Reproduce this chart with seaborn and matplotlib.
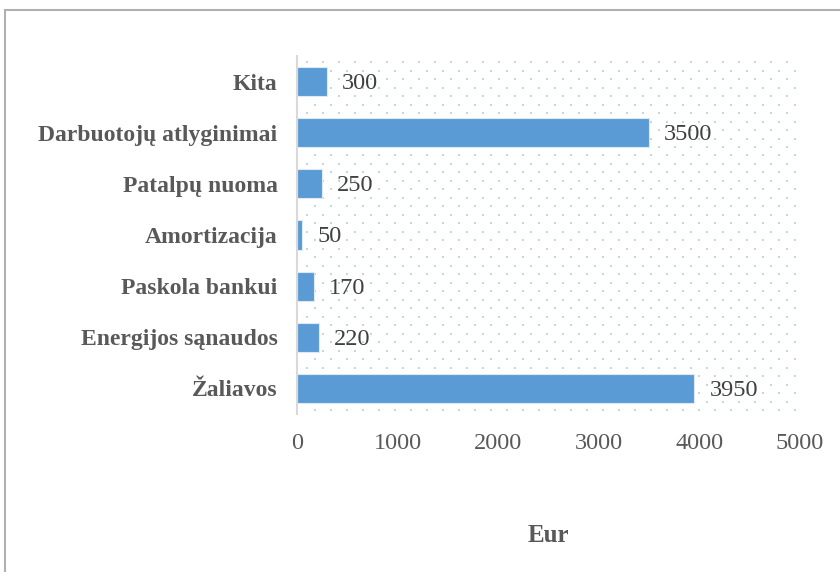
import matplotlib
matplotlib.use("Agg")
import matplotlib.pyplot as plt
import seaborn as sns
import pandas as pd
import numpy as np
from matplotlib.patches import Rectangle

# Expense categories and amounts (Eur)
categories = ['Kita', 'Darbuotojų atlyginimai', 'Patalpų nuoma', 'Amortizacija',
              'Paskola bankui', 'Energijos sąnaudos', 'Žaliavos']
amounts = [300, 3500, 250, 50, 170, 220, 3950]
x_ticks = [0, 1000, 2000, 3000, 4000, 5000]

df = pd.DataFrame({'Kategorija': categories, 'Suma': amounts})

sns.set_style('white')
plt.rcParams['font.family'] = ['Liberation Serif', 'DejaVu Serif']

fig = plt.figure(figsize=(8.4, 5.72), dpi=100)
ax_w, ax_h = 503, 358
ax = fig.add_axes([297 / 840, 1 - 414 / 572, ax_w / 840, ax_h / 572])

# dotted plot-area background (staggered dot pattern, ~16px x 8.5px)
dx, dy = 16 / ax_w, 8.5 / ax_h
pts = []
for i, yy in enumerate(np.arange(1 - 6 / ax_h, 0.0, -dy)):
    off = 0 if i % 2 == 0 else dx / 2
    for xx in np.arange(0.02 + off, 1.0, dx):
        pts.append((xx, yy))
pts = np.array(pts)
ax.scatter(pts[:, 0], pts[:, 1], transform=ax.transAxes, s=3, marker='s',
           color='#bdd7ee', linewidths=0, zorder=0, clip_on=False)

sns.barplot(data=df, x='Suma', y='Kategorija', color='#5b9bd5', width=0.57,
            saturation=1, ax=ax, edgecolor='#dfe9f5', linewidth=0.8, zorder=2)

for p, v in zip(ax.patches, amounts):
    ax.annotate(str(v), (p.get_width(), p.get_y() + p.get_height() / 2),
                xytext=(15, -2), textcoords='offset pixels',
                va='center', ha='left', fontsize=17.5, color='#404040')

ax.set_xlim(0, 5000)
ax.set_xticks(x_ticks)
ax.set_xticklabels([str(t) for t in x_ticks], fontsize=17.5, color='#595959')
ax.tick_params(axis='x', length=0, pad=14)
ax.tick_params(axis='y', length=0, pad=14)
for lbl in ax.get_yticklabels():
    lbl.set_fontweight('bold')
    lbl.set_fontsize(17)
    lbl.set_color('#595959')

ax.set_ylabel('')
ax.set_xlabel('Eur', fontsize=18, fontweight='bold', color='#595959', labelpad=50)

for s in ['top', 'right', 'bottom']:
    ax.spines[s].set_visible(False)
ax.spines['left'].set_color('#d9d9d9')
ax.spines['left'].set_linewidth(1.5)
ax.spines['left'].set_zorder(3)

# outer chart frame
fig.patches.append(Rectangle((5 / 840, -0.1), 1.2, 1 - 10 / 572 + 0.1,
                             transform=fig.transFigure, fill=False,
                             edgecolor='#b0b0b0', linewidth=1.5))

fig.savefig('out.png', dpi=100)
